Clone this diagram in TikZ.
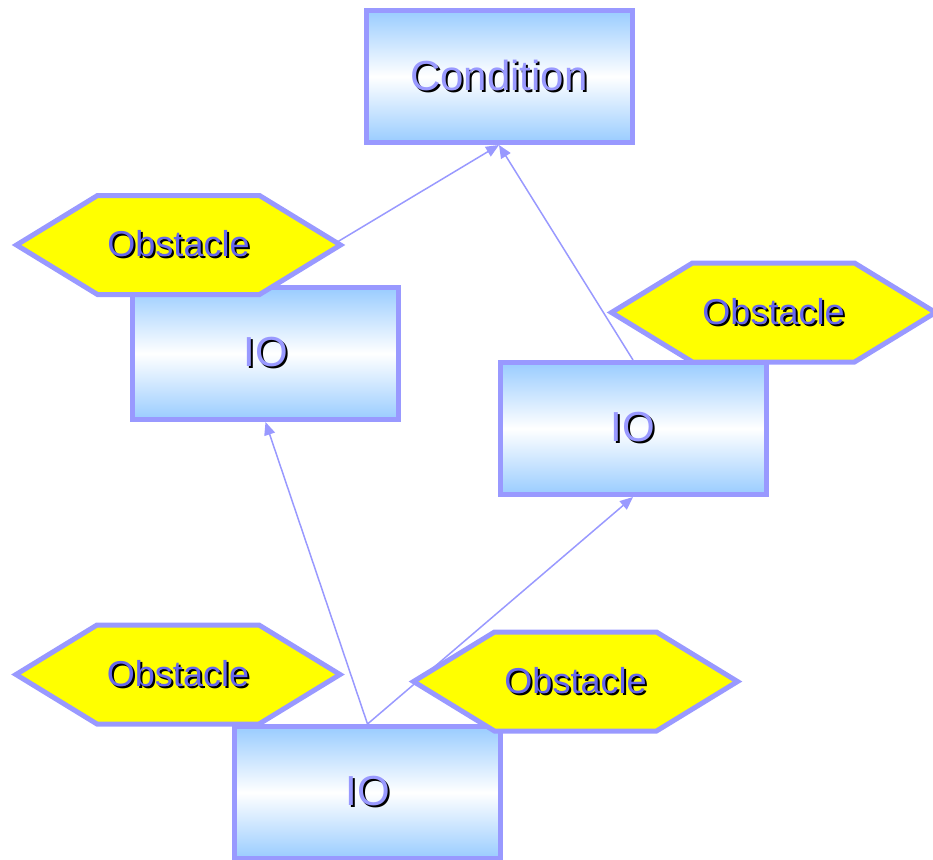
\documentclass[tikz,border=0pt]{standalone}
\usepackage{fontspec}
\setmainfont{Liberation Sans}
\usetikzlibrary{arrows.meta}
\definecolor{bord}{HTML}{9999FF}
\definecolor{boxblue}{HTML}{99CCFF}
\definecolor{txtblue}{HTML}{9999FF}
\definecolor{obtxt}{HTML}{6666EE}
\definecolor{hexyellow}{HTML}{FFFF00}
\newcommand\shtxt[2]{\makebox[0pt][l]{\hspace*{2pt}\raisebox{-2pt}{\color{black}#2}}\textcolor{#1}{#2}}
\tikzset{
 iobox/.style={draw=bord, line width=5pt, top color=boxblue, bottom color=boxblue, middle color=white,
   minimum width=266pt, minimum height=132pt, inner sep=0pt, font=\fontsize{42}{48}\selectfont},
 conn/.style={draw=bord, line width=1.5pt, -{Triangle[length=13pt,width=11pt]}},
 hexshape/.style={draw=bord, fill=hexyellow, line width=5pt, line join=miter},
 obsttext/.style={inner sep=0pt, font=\fontsize{36}{42}\selectfont},
}
\newcommand\obstacle[3]{%
 \path[hexshape] (#2-162,#3) -- (#2-81,#3-49.5) -- (#2+81,#3-49.5) -- (#2+162,#3) -- (#2+81,#3+49.5) -- (#2-81,#3+49.5) -- cycle;
 \node[obsttext] (#1) at (#2,#3) {\shtxt{obtxt}{Obstacle}};}
\begin{document}
\begin{tikzpicture}[x=1pt,y=-1pt]
\useasboundingbox (0,0) rectangle (933,859);
\clip (0,0) rectangle (933,859);
% boxes
\node[iobox] (cond) at (499,76.5) {\shtxt{txtblue}{Condition}};
\node[iobox] (io1) at (265.5,353.5) {\shtxt{txtblue}{IO}};
\node[iobox] (io2) at (633,428.5) {\shtxt{txtblue}{IO}};
\node[iobox] (io3) at (367.5,792.5) {\shtxt{txtblue}{IO}};
% connectors
\draw[conn] (io1.north) -- (cond.south);
\draw[conn] (io2.north) -- (cond.south);
\draw[conn] (io3.north) -- (io1.south);
\draw[conn] (io3.north) -- (io2.south);
% obstacles
\obstacle{ob1}{178.5}{245}
\obstacle{ob2}{773.5}{312.5}
\obstacle{ob3}{178}{674.5}
\obstacle{ob4}{575.5}{681.5}
\end{tikzpicture}
\end{document}
